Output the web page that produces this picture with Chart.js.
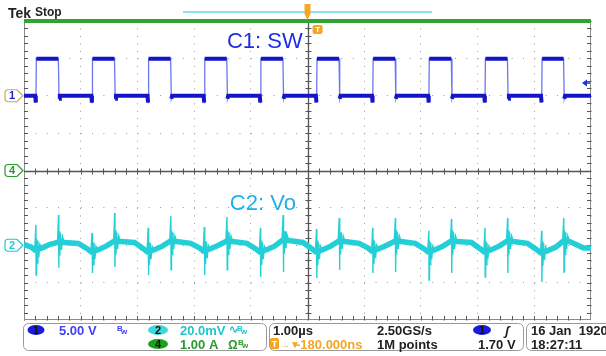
<!DOCTYPE html>
<html>
<head>
<meta charset="utf-8">
<script src="https://cdn.jsdelivr.net/npm/chart.js@4.4.1/dist/chart.umd.min.js"></script>
<style>
  html, body { margin: 0; padding: 0; background: #fff; }
  canvas { display: block; }
</style>
</head>
<body>
<canvas id="scope" width="606" height="356"></canvas>
<script>
// screen is 10 x 8 divisions, 1.00us/div
const riseTimes = [0.21, 1.20, 2.19, 3.18, 4.17, 5.16, 6.15, 7.14, 8.13, 9.13];
const fallTimes = [0.61, 1.60, 2.59, 3.58, 4.57, 5.56, 6.55, 7.54, 8.53, 9.52];

// C1: SW, 5.00 V/div, ground marker at +2 div
const swHighV = 4.95;
const swLowV = 0;
const swDipV = -0.9;

// C2: Vo, 20.0 mV/div, ground marker at -2 div
const voRiseUp = [10.9, 6.6, 9.3, 9.8, 9.3, 8.7, 9.3, 7.7, 9.3, 7.7];
const voRiseDown = [-15.9, -14.8, -15.9, -15.9, -17.0, -17.5, -14.8, -18.6, -17.0, -19.6];
const voFallUp = [16.2, 17.3, 15.7, 15.1, 16.2, 14.6, 14.6, 14.1, 14.6, 14.6];
const voFallDown = [-12.1, -11.6, -13.2, -13.2, -14.3, -13.2, -14.3, -14.8, -14.8, -14.3];
const voPreRise = [-2.5, -3.5, -3.5, -3.0, -3.5, -3.5, -3.0, -3.5, -3.5, -4.0];
const voAtFall = [1.5, 2.0, 2.0, 2.0, 2.5, 2.0, 2.0, 2.0, 2.0, 2.0];
const voMid = [1.0, 1.5, 1.0, 1.0, 1.5, 1.0, 1.0, 1.5, 1.0, -1.5];
const ringOffsets = [0.012, 0.022, 0.034, 0.05, 0.07];
const ringMv = [6, -7, 5, -4, 3];

// C4: 1.00 A/div, clipped at the top of the screen
const ch4Div = [4.0, 4.0];

const ch1Off = 2, ch1Scale = 5;
const ch2Off = -2, ch2Scale = 20;
const trigLevelV = 1.70;

const swDiv = v => ch1Off + v / ch1Scale;
const voDiv = mv => ch2Off + mv / ch2Scale;

// full SW trace (thin, edges) and the flat levels (thick, gaps at the edges)
const swPts = [{ x: 0, y: swDiv(swLowV) }];
const swLevels = [{ x: 0, y: swDiv(swLowV) }];
riseTimes.forEach((r, i) => {
  const f = fallTimes[i];
  swPts.push({ x: r - 0.012, y: swDiv(swLowV) });
  swPts.push({ x: r, y: swDiv(swDipV) });
  swPts.push({ x: r + 0.008, y: swDiv(swHighV) });
  swPts.push({ x: f - 0.004, y: swDiv(swHighV) });
  swPts.push({ x: f + 0.008, y: swDiv(-0.4) });
  swPts.push({ x: f + 0.022, y: swDiv(swLowV) });

  swLevels.push({ x: r - 0.012, y: swDiv(swLowV) });
  swLevels.push({ x: r - 0.002, y: swDiv(swDipV) });
  swLevels.push({ x: r + 0.004, y: null });
  swLevels.push({ x: r + 0.008, y: swDiv(swHighV) });
  swLevels.push({ x: f - 0.004, y: swDiv(swHighV) });
  swLevels.push({ x: f + 0.002, y: null });
  swLevels.push({ x: f + 0.008, y: swDiv(-0.4) });
  swLevels.push({ x: f + 0.022, y: swDiv(swLowV) });
});
swPts.push({ x: 10, y: swDiv(swLowV) });
swLevels.push({ x: 10, y: swDiv(swLowV) });

const voPts = [{ x: 0, y: voDiv(0.5) }];
const voBand = [{ x: 0, y: voDiv(0.5) }];
riseTimes.forEach((r, i) => {
  const f = fallTimes[i];
  const pre = voPreRise[i], atF = voAtFall[i];
  const base1 = [[r - 0.08, pre + 1.5], [r - 0.02, pre]];
  base1.forEach(p => { voPts.push({ x: p[0], y: voDiv(p[1]) }); voBand.push({ x: p[0], y: voDiv(p[1]) }); });
  voPts.push({ x: r, y: voDiv(voRiseUp[i]) });
  voPts.push({ x: r + 0.004, y: voDiv(voRiseDown[i]) });
  ringOffsets.forEach((o, k) => voPts.push({ x: r + o, y: voDiv(pre + ringMv[k]) }));
  const base2 = [[r + 0.1, pre + 1], [r + 0.25, pre + 3], [f - 0.02, atF]];
  base2.forEach(p => { voPts.push({ x: p[0], y: voDiv(p[1]) }); voBand.push({ x: p[0], y: voDiv(p[1]) }); });
  voPts.push({ x: f, y: voDiv(voFallUp[i]) });
  voPts.push({ x: f + 0.004, y: voDiv(voFallDown[i]) });
  ringOffsets.forEach((o, k) => voPts.push({ x: f + o, y: voDiv(atF + ringMv[k]) }));
  const base3 = [[f + 0.1, atF], [f + 0.35, voMid[i]]];
  base3.forEach(p => { voPts.push({ x: p[0], y: voDiv(p[1]) }); voBand.push({ x: p[0], y: voDiv(p[1]) }); });
});
voPts.push({ x: 10, y: voDiv(-1.5) });
voBand.push({ x: 10, y: voDiv(-1.5) });

const ch4Pts = [{ x: 0, y: ch4Div[0] }, { x: 10, y: ch4Div[1] }];

const FONT = '"Liberation Sans", Arial, sans-serif';

function flagMarker(ctx, yPx, label, edge, color) {
  ctx.beginPath();
  ctx.moveTo(8, yPx - 6);
  ctx.lineTo(17, yPx - 6);
  ctx.lineTo(23, yPx);
  ctx.lineTo(17, yPx + 6);
  ctx.lineTo(8, yPx + 6);
  ctx.arcTo(5, yPx + 6, 5, yPx, 3);
  ctx.lineTo(5, yPx - 3);
  ctx.arcTo(5, yPx - 6, 8, yPx - 6, 3);
  ctx.closePath();
  ctx.fillStyle = '#fff';
  ctx.fill();
  ctx.strokeStyle = edge;
  ctx.lineWidth = 1.2;
  ctx.stroke();
  ctx.fillStyle = color;
  ctx.font = 'bold 11px ' + FONT;
  ctx.textAlign = 'center';
  ctx.textBaseline = 'middle';
  ctx.fillText(label, 12, yPx + 0.5);
}

function rounded(ctx, x, y, w, h, r) {
  ctx.beginPath();
  ctx.moveTo(x + r, y);
  ctx.arcTo(x + w, y, x + w, y + h, r);
  ctx.arcTo(x + w, y + h, x, y + h, r);
  ctx.arcTo(x, y + h, x, y, r);
  ctx.arcTo(x, y, x + w, y, r);
  ctx.closePath();
}

function oval(ctx, cx, cy, w, h, fill, label) {
  ctx.beginPath();
  ctx.ellipse(cx, cy, w / 2, h / 2, 0, 0, Math.PI * 2);
  ctx.fillStyle = fill;
  ctx.fill();
  ctx.fillStyle = '#111';
  ctx.font = 'bold 11px ' + FONT;
  ctx.textAlign = 'center';
  ctx.textBaseline = 'middle';
  ctx.fillText(label, cx, cy + 0.5);
}

const scopeDecor = {
  id: 'scopeDecor',
  beforeDatasetsDraw(chart) {
    const { ctx, chartArea: a, scales: { x, y } } = chart;
    ctx.save();
    ctx.strokeStyle = '#8c8c8c';
    ctx.lineWidth = 1;
    ctx.strokeRect(a.left + 0.5, a.top + 0.5, a.right - a.left - 1, a.bottom - a.top - 1);

    const cx = Math.round(x.getPixelForValue(5)) + 0.5;
    const cy = Math.round(y.getPixelForValue(0)) + 0.5;
    ctx.strokeStyle = '#555';
    ctx.lineWidth = 1.3;
    ctx.beginPath();
    ctx.moveTo(a.left, cy); ctx.lineTo(a.right, cy);
    ctx.moveTo(cx, a.top); ctx.lineTo(cx, a.bottom);
    ctx.stroke();

    ctx.lineWidth = 1;
    ctx.beginPath();
    for (let k = 1; k < 50; k++) {
      const px = Math.round(x.getPixelForValue(k / 5)) + 0.5;
      ctx.moveTo(px, cy - 3); ctx.lineTo(px, cy + 3);
      ctx.moveTo(px, a.bottom); ctx.lineTo(px, a.bottom - 4);
    }
    for (let k = 1; k < 40; k++) {
      const py = Math.round(y.getPixelForValue(k / 5 - 4)) + 0.5;
      ctx.moveTo(cx - 3, py); ctx.lineTo(cx + 3, py);
      ctx.moveTo(a.left, py); ctx.lineTo(a.left + 4, py);
      ctx.moveTo(a.right, py); ctx.lineTo(a.right - 4, py);
    }
    ctx.stroke();
    ctx.restore();
  },
  afterDraw(chart) {
    const { ctx, chartArea: a, scales: { x, y } } = chart;
    ctx.save();

    // header
    ctx.fillStyle = '#222';
    ctx.textAlign = 'left';
    ctx.textBaseline = 'alphabetic';
    ctx.font = 'bold 14px ' + FONT;
    ctx.fillText('Tek', 8, 18);
    ctx.font = 'bold 12px ' + FONT;
    ctx.fillText('Stop', 35, 16);
    ctx.fillStyle = '#86e6f0';
    ctx.fillRect(183, 11, 249, 2);

    // expansion point marker (top centre)
    const cx = x.getPixelForValue(5);
    ctx.fillStyle = '#f5a623';
    ctx.beginPath();
    ctx.moveTo(cx - 3, 4); ctx.lineTo(cx + 3, 4); ctx.lineTo(cx + 3, 14);
    ctx.lineTo(cx, 20); ctx.lineTo(cx - 3, 14); ctx.closePath();
    ctx.fill();

    // trigger position marker
    const tx = x.getPixelForValue(riseTimes[5]);
    ctx.fillStyle = '#f5a623';
    rounded(ctx, tx - 4, 25, 10, 9, 2);
    ctx.fill();
    ctx.fillStyle = '#fff';
    ctx.font = 'bold 8px ' + FONT;
    ctx.textAlign = 'center';
    ctx.textBaseline = 'middle';
    ctx.fillText('T', tx + 1, 29.5);

    // trigger level arrow (right edge)
    const ty = y.getPixelForValue(swDiv(trigLevelV));
    ctx.fillStyle = '#2030e0';
    ctx.beginPath();
    ctx.moveTo(a.right - 9, ty); ctx.lineTo(a.right - 4, ty - 3.5); ctx.lineTo(a.right - 4, ty + 3.5); ctx.closePath();
    ctx.fill();
    ctx.fillRect(a.right - 5, ty - 0.75, 4, 1.5);

    // channel ground markers
    flagMarker(ctx, y.getPixelForValue(ch1Off), '1', '#b8b060', '#2020d0');
    flagMarker(ctx, y.getPixelForValue(0), '4', '#2a9a2a', '#2a9a2a');
    flagMarker(ctx, y.getPixelForValue(ch2Off), '2', '#20c8d0', '#20c8d0');

    // trace labels
    ctx.textAlign = 'left';
    ctx.textBaseline = 'alphabetic';
    ctx.font = '22px ' + FONT;
    ctx.fillStyle = '#1e2ee6';
    ctx.fillText('C1: SW', x.getPixelForValue(3.58), y.getPixelForValue(3.27));
    ctx.fillStyle = '#1fb0e8';
    ctx.fillText('C2: Vo', x.getPixelForValue(3.63), y.getPixelForValue(-1.06));

    // readout panel
    ctx.strokeStyle = '#9a9a9a';
    ctx.lineWidth = 1;
    ctx.fillStyle = '#fff';
    rounded(ctx, 23.5, 323.5, 243, 27, 5); ctx.fill(); ctx.stroke();
    rounded(ctx, 269.5, 323.5, 254, 27, 5); ctx.fill(); ctx.stroke();
    rounded(ctx, 526.5, 323.5, 90, 27, 5); ctx.fill(); ctx.stroke();

    oval(ctx, 36, 330, 17, 10, '#1a1ae0', '1');
    oval(ctx, 158, 330, 20, 10, '#40d8dc', '2');
    oval(ctx, 158, 344, 20, 10, '#1aa01a', '4');
    oval(ctx, 482, 330, 18, 10, '#1a1ae0', '1');

    ctx.textAlign = 'left';
    ctx.textBaseline = 'alphabetic';
    ctx.font = 'bold 13px ' + FONT;
    ctx.fillStyle = '#4040f0';
    ctx.fillText('5.00 V', 59, 335);
    ctx.font = 'bold 8px ' + FONT;
    ctx.fillText('B', 117, 331);
    ctx.fillText('w', 121, 334);

    ctx.font = 'bold 13px ' + FONT;
    ctx.fillStyle = '#22c4cc';
    ctx.fillText('20.0mV', 180, 335);
    ctx.font = 'bold 11px ' + FONT;
    ctx.fillText('\u223F', 229, 333);
    ctx.font = 'bold 8px ' + FONT;
    ctx.fillText('B', 237, 331);
    ctx.fillText('w', 241, 334);

    ctx.font = 'bold 13px ' + FONT;
    ctx.fillStyle = '#2a9a2a';
    ctx.fillText('1.00 A', 180, 349);
    ctx.font = 'bold 12px ' + FONT;
    ctx.fillText('\u03A9', 228, 349);
    ctx.font = 'bold 8px ' + FONT;
    ctx.fillText('B', 238, 345);
    ctx.fillText('w', 242, 348);

    ctx.font = 'bold 13px ' + FONT;
    ctx.fillStyle = '#222';
    ctx.fillText('1.00\u00B5s', 273, 335);
    ctx.fillText('2.50GS/s', 377, 335);
    ctx.fillText('1M points', 377, 349);
    ctx.fillText('1.70 V', 478, 349);
    ctx.fillText('16 Jan  1920', 531, 335);
    ctx.fillText('18:27:11', 531, 349);
    ctx.font = 'italic bold 13px ' + FONT;
    ctx.fillText('\u0283', 505, 335);

    ctx.fillStyle = '#f5a623';
    rounded(ctx, 270, 338, 9, 11, 1.5); ctx.fill();
    ctx.fillStyle = '#fff';
    ctx.font = 'bold 9px ' + FONT;
    ctx.textAlign = 'center';
    ctx.fillText('T', 274.5, 347);
    ctx.textAlign = 'left';
    ctx.fillStyle = '#f5a623';
    ctx.font = 'bold 10px ' + FONT;
    ctx.fillText('\u2192\u25BC', 280, 348);
    ctx.font = 'bold 13px ' + FONT;
    ctx.fillText('-180.000ns', 296, 349);

    ctx.restore();
  }
};

const dotted = (color, dash) => ({
  grid: { color: color, lineWidth: 1, drawTicks: false },
  border: { display: false, dash: dash }
});

// Chart.js paints dataset 0 last, so the list runs top layer first
new Chart(document.getElementById('scope'), {
  type: 'line',
  data: {
    datasets: [
      {
        label: 'C4',
        data: ch4Pts,
        borderColor: '#2fa52f',
        borderWidth: 4,
        clip: false
      },
      {
        label: 'C1: SW',
        data: swLevels,
        borderColor: '#1414c8',
        borderWidth: 4,
        spanGaps: false
      },
      {
        label: 'C1: SW edges',
        data: swPts,
        borderColor: '#6b78ea',
        borderWidth: 1.3
      },
      {
        label: 'C2: Vo',
        data: voPts,
        borderColor: '#24cfd6',
        borderWidth: 1.4
      },
      {
        label: 'C2 band',
        data: voBand,
        borderColor: '#24cfd6',
        borderWidth: 5.5
      }
    ]
  },
  options: {
    responsive: false,
    animation: false,
    layout: { padding: { left: 24, top: 21, right: 15, bottom: 36 } },
    elements: { point: { radius: 0 }, line: { tension: 0 } },
    plugins: { legend: { display: false }, tooltip: { enabled: false } },
    scales: {
      x: Object.assign({ type: 'linear', min: 0, max: 10, ticks: { display: false, stepSize: 1 } },
        dotted('#9a9a9a', [1, 6.48])),
      y: Object.assign({ type: 'linear', min: -4, max: 4, ticks: { display: false, stepSize: 1 } },
        dotted('#9a9a9a', [1, 10.34]))
    }
  },
  plugins: [scopeDecor]
});
</script>
</body>
</html>
